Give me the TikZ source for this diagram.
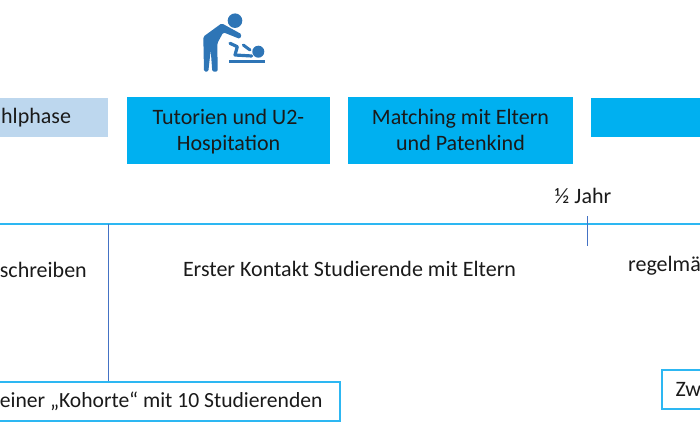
\documentclass[tikz,border=0pt]{standalone}
\usepackage{fontspec}
\setmainfont{Carlito}
\definecolor{phasefill}{HTML}{00B0F0}
\definecolor{palefill}{HTML}{BDD7EE}
\definecolor{axisblue}{HTML}{2DB7F2}
\definecolor{tickblue}{HTML}{4472C4}
\definecolor{iconblue}{HTML}{2E75B6}
\definecolor{inktext}{HTML}{1A1A1A}
\tikzset{
  phase/.style={fill=phasefill,minimum height=66pt,align=center,text=inktext,inner sep=0pt},
  pale/.style={fill=palefill,minimum height=39pt,inner sep=0pt,text=inktext},
  note/.style={draw=axisblue,line width=2pt,fill=white,minimum height=39pt,inner sep=0pt,text=inktext},
  lbl/.style={inner sep=0pt,text=inktext},
}
\begin{document}
\begin{tikzpicture}[x=1pt,y=-1pt,font=\fontsize{22}{26}\selectfont]
      \useasboundingbox (0,0) rectangle (700,441);
      \clip (0,0) rectangle (700,441);
      % phases
      \node[pale,minimum width=128pt,text width=128pt,align=flush right] (select) at (44,117.5) {hlphase\hspace*{37pt}};
      \node[phase,minimum width=203pt] (tutor) at (228.5,130.5) {\rule{0pt}{22pt}Tutorien und U2-\\\strut Hospitation};
      \node[phase,minimum width=225pt] (match) at (460.5,130.5) {\rule{0pt}{22pt}Matching mit Eltern\\\strut und Patenkind};
      \node[phase,minimum height=39pt,minimum width=130pt] (next) at (656,117.5) {};
      % timeline
      \coordinate (axisL) at (-5,224);
      \coordinate (axisR) at (705,224);
      \coordinate (tickT) at (587,216);
      \coordinate (tickB) at (587,246);
      \coordinate (stemT) at (108.5,224);
      \draw[axisblue,line width=2pt] (axisL) -- (axisR);
      \draw[tickblue,line width=.7pt] (tickT) -- (tickB);
      \node[lbl] (half) at (583,196) {½ Jahr};
      \node[lbl,anchor=east] (write) at (87,270) {schreiben};
      \node[lbl] (first) at (349.5,269) {Erster Kontakt Studierende mit Eltern};
      \node[lbl,anchor=west] (regular) at (628,266) {regelmä};
      % boxes below
      \node[note,minimum width=360pt,text width=360pt,align=flush right,font=\fontsize{21.6}{26}\selectfont] (cohort) at (159.5,401.5) {einer „Kohorte“ mit 10 Studierenden\hspace*{17pt}};
      \node[note,minimum width=60pt,text width=60pt,align=left] (second) at (691.5,389.5) {\hspace*{14pt}Zw};
      \draw[tickblue,line width=.7pt] (stemT) -- (stemT |- cohort.north);
      % icon
      \begin{scope}[iconblue]
        \fill (235,20.7) circle (7.3);
        \fill (258.3,51.7) circle (6);
        \fill (229,60) rectangle (265,62.7);
        \fill[rounded corners=1.5pt] (221.7,23.3) -- (241.7,34.3) -- (240,39) -- (223.3,32.3) -- (217.3,43.3)
          -- (217.7,71.7) -- (212.3,71.7) -- (210.7,50) -- (208.3,71.7) -- (204,71.7)
          -- (203.3,36.7) -- cycle;
        \draw[line width=3.2pt,line cap=round,line join=round] (230,43.3) -- (237.3,46.7) -- (235,55) -- (251.7,56);
        \draw[line width=3pt,line cap=round] (243.3,45) -- (250,50);
      \end{scope}
    \end{tikzpicture}
\end{document}
